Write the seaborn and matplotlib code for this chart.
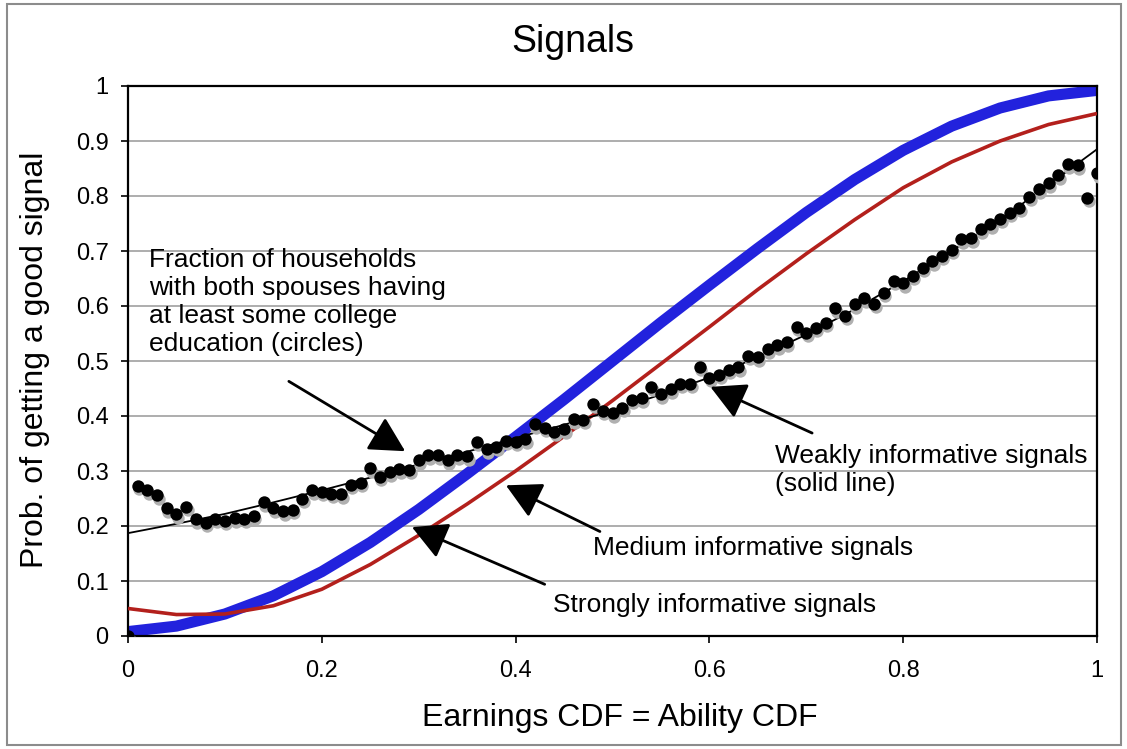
import numpy as np
import pandas as pd
import matplotlib
matplotlib.use("Agg")
import matplotlib.pyplot as plt
import matplotlib.transforms as mtransforms
from matplotlib.patches import Rectangle
import seaborn as sns

## Data ##

# household circles, x = 0.00 ... 1.00 in steps of 0.01
circle_x = [i / 100 for i in range(101)]
circle_y = [0.000, 0.273, 0.265, 0.256, 0.232, 0.221, 0.235, 0.212, 0.206, 0.213,
            0.210, 0.214, 0.213, 0.219, 0.243, 0.232, 0.227, 0.230, 0.250, 0.265,
            0.262, 0.259, 0.258, 0.275, 0.279, 0.305, 0.290, 0.298, 0.303, 0.302,
            0.320, 0.329, 0.329, 0.320, 0.329, 0.327, 0.353, 0.340, 0.344, 0.355,
            0.353, 0.358, 0.385, 0.379, 0.371, 0.376, 0.394, 0.393, 0.422, 0.410,
            0.405, 0.415, 0.430, 0.432, 0.453, 0.440, 0.449, 0.459, 0.459, 0.490,
            0.470, 0.475, 0.484, 0.489, 0.510, 0.507, 0.521, 0.529, 0.534, 0.562,
            0.551, 0.560, 0.570, 0.596, 0.582, 0.603, 0.614, 0.604, 0.624, 0.646,
            0.641, 0.655, 0.670, 0.681, 0.691, 0.702, 0.721, 0.723, 0.740, 0.749,
            0.759, 0.770, 0.779, 0.799, 0.812, 0.823, 0.838, 0.858, 0.856, 0.797,
            0.841]

# signal curves, x = 0.00 ... 1.00 in steps of 0.05
curve_x = [i / 20 for i in range(21)]
weak_y = [0.187, 0.204, 0.222, 0.243, 0.265, 0.288, 0.312, 0.335, 0.360, 0.384,
          0.410, 0.439, 0.470, 0.507, 0.548, 0.594, 0.645, 0.700, 0.757, 0.820, 0.885]
medium_y = [0.050, 0.039, 0.040, 0.055, 0.085, 0.130, 0.183, 0.240, 0.300, 0.363,
            0.428, 0.495, 0.562, 0.630, 0.695, 0.757, 0.815, 0.862, 0.900, 0.930, 0.950]
strong_y = [0.008, 0.018, 0.040, 0.073, 0.117, 0.170, 0.230, 0.295, 0.362, 0.430,
            0.500, 0.570, 0.638, 0.705, 0.770, 0.830, 0.883, 0.927, 0.960, 0.982, 0.992]

x_ticks = [0, 0.2, 0.4, 0.6, 0.8, 1]
x_tick_labels = ["0", "0.2", "0.4", "0.6", "0.8", "1"]
y_ticks = [i / 10 for i in range(11)]
y_tick_labels = ["0", "0.1", "0.2", "0.3", "0.4", "0.5", "0.6", "0.7", "0.8", "0.9", "1"]

circles = pd.DataFrame({"x": circle_x, "y": circle_y})
curves = pd.DataFrame({"x": curve_x, "weak": weak_y, "medium": medium_y, "strong": strong_y})

## Plot ##

sns.set_theme(style="white")
plt.rcParams["font.family"] = ["Liberation Sans", "DejaVu Sans"]
plt.rcParams["text.color"] = "black"

fig = plt.figure(figsize=(11.27, 7.49), dpi=100)
ax = fig.add_axes([128 / 1127, 1 - 636 / 749, 969 / 1127, 550 / 749])

for y in y_ticks[1:]:
    ax.axhline(y, color="#a0a0a0", lw=1.2, zorder=0)

line_kw = dict(ax=ax, sort=False, solid_joinstyle="round", solid_capstyle="butt")
sns.lineplot(data=curves, x="x", y="strong", color="#2222dd", lw=8, zorder=2, **line_kw)
sns.lineplot(data=curves, x="x", y="medium", color="#b3201c", lw=2.6, zorder=3, **line_kw)
sns.lineplot(data=curves, x="x", y="weak", color="black", lw=1.3, zorder=4, **line_kw)

# grey drop shadow under the circles
shadow = mtransforms.offset_copy(ax.transData, fig=fig, x=1.5, y=-3.5, units="dots")
ax.scatter(circles["x"], circles["y"], s=80, color="#b0b0b0", lw=0, transform=shadow, zorder=5)
sns.scatterplot(data=circles, x="x", y="y", ax=ax, s=80, color="black", linewidth=0, zorder=6)

ax.set_xlim(0, 1)
ax.set_ylim(0, 1)
ax.set_xticks(x_ticks)
ax.set_xticklabels(x_tick_labels)
ax.set_yticks(y_ticks)
ax.set_yticklabels(y_tick_labels)
ax.set_xlabel("")
ax.set_ylabel("")
ax.tick_params(axis="both", direction="out", length=5, width=1.2, color="black",
               labelsize=17, labelcolor="black", left=True, bottom=True)
ax.tick_params(axis="x", pad=12)
ax.tick_params(axis="y", pad=9)
for side in ["left", "right", "top", "bottom"]:
    ax.spines[side].set_visible(True)
    ax.spines[side].set_color("black")
    ax.spines[side].set_linewidth(1.6)

# annotations
arrow = dict(arrowstyle="-|>,head_length=0.9,head_width=0.48", color="black", lw=2,
             mutation_scale=24, shrinkA=0, shrinkB=0)
ax.annotate("", xy=(0.286, 0.336), xytext=(0.166, 0.463), arrowprops=arrow, zorder=7)
ax.annotate("", xy=(0.601, 0.453), xytext=(0.706, 0.369), arrowprops=arrow, zorder=7)
ax.annotate("", xy=(0.390, 0.274), xytext=(0.487, 0.190), arrowprops=arrow, zorder=7)
ax.annotate("", xy=(0.293, 0.198), xytext=(0.430, 0.094), arrowprops=arrow, zorder=7)

text_kw = dict(fontsize=19, color="black", zorder=8)
ax.text(0.022, 0.705, "Fraction of households\nwith both spouses having\nat least some college\neducation (circles)",
        va="top", ha="left", linespacing=1.2, **text_kw)
ax.text(0.668, 0.349, "Weakly informative signals\n(solid line)", va="top", ha="left",
        linespacing=1.2, **text_kw)
ax.text(0.480, 0.160, "Medium informative signals", va="center", ha="left", **text_kw)
ax.text(0.439, 0.057, "Strongly informative signals", va="center", ha="left", **text_kw)

fig.text(0.508, 0.944, "Signals", ha="center", va="center", fontsize=27, color="black")
fig.text(0.550, 0.041, "Earnings CDF = Ability CDF", ha="center", va="center", fontsize=23,
         color="black")
fig.text(0.031, 0.519, "Prob. of getting a good signal", ha="center", va="center",
         rotation=90, fontsize=23, color="black")

fig.patches.append(Rectangle((0.006, 0.005), 0.989, 0.989, transform=fig.transFigure,
                             fill=False, edgecolor="#8c8c8c", lw=1.5))

plt.savefig("out.png", dpi=100)
